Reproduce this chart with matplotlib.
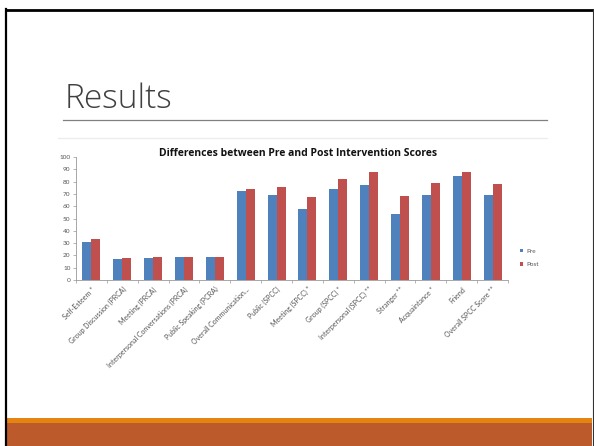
import numpy as np
import matplotlib
matplotlib.use("Agg")
import matplotlib.pyplot as plt
from matplotlib.patches import Rectangle
from matplotlib.lines import Line2D

categories = ["Self-Esteem *", "Group Discussion (PRCA)", "Meeting (PRCA)",
              "Interpersonal Conversations (PRCA)", "Public Speaking (PCRA)",
              "Overall Communication...", "Public (SPCC)", "Meeting (SPCC) *",
              "Group (SPCC) *", "Interpersonal (SPCC) **", "Stranger **",
              "Acquaintance *", "Friend", "Overall SPCC Score **"]
pre = [31.2, 17.1, 17.9, 18.5, 18.5, 72.3, 68.8, 57.7, 74.2, 76.9, 53.8, 69.0, 84.8, 69.0]
post = [33.2, 17.9, 18.7, 18.7, 18.5, 73.9, 75.3, 67.1, 81.8, 87.8, 67.9, 78.8, 87.5, 78.0]
yticks = list(range(0, 101, 10))

W, H = 594, 446
fig = plt.figure(figsize=(W / 100, H / 100), dpi=100)

def fx(px):
    return px / W

def fy(py):
    return 1 - py / H

# slide frame
fig.add_artist(Line2D([fx(6), fx(6)], [fy(9), fy(446)], color="black", lw=1.6))
fig.add_artist(Line2D([fx(6), fx(593)], [fy(9.5), fy(9.5)], color="black", lw=2.0))
fig.add_artist(Line2D([fx(592.5), fx(592.5)], [fy(9), fy(446)], color="#333333", lw=0.8))

# bottom bands
fig.add_artist(Rectangle((fx(7), fy(423)), fx(585), 5 / H, color="#E38510", lw=0))
fig.add_artist(Rectangle((fx(7), 0), fx(585), 23 / H, color="#BC5A2C", lw=0))

# title and rules
fig.text(fx(65), fy(108), "Results", fontsize=24, color="#404040",
         family="Open Sans", fontweight="light", ha="left", va="baseline")
fig.add_artist(Line2D([fx(63), fx(547)], [fy(120), fy(120)], color="#808080", lw=0.9))
fig.add_artist(Line2D([fx(58), fx(547)], [fy(138), fy(138)], color="#ececec", lw=0.9))

# chart
ax = fig.add_axes([fx(76), fy(280), fx(508 - 76), (280 - 157) / H])
x = np.arange(len(categories))
w = 0.29
ax.bar(x - w / 2, pre, w, color="#4F81BD", label="Pre")
ax.bar(x + w / 2, post, w, color="#C0504D", label="Post")
ax.set_xlim(-0.5, len(categories) - 0.5)
ax.set_ylim(0, 100)
ax.set_yticks(yticks)
ax.set_yticklabels([str(t) for t in yticks], fontsize=4.6, color="#555555", family="Lato")
ax.set_xticks(x)
ax.set_xticklabels(categories, rotation=45, ha="right", rotation_mode="anchor",
                   fontsize=5.0, color="#555555", family="Lato")
ax.set_xticks(np.arange(-0.5, len(categories), 1), minor=True)
ax.tick_params(axis="x", which="major", length=0, pad=4)
ax.tick_params(axis="x", which="minor", length=2, color="#999999", width=0.5)
ax.tick_params(axis="y", length=2, color="#999999", width=0.5, pad=2)
for s in ["top", "right"]:
    ax.spines[s].set_visible(False)
ax.spines["left"].set_color("#999999")
ax.spines["bottom"].set_color("#999999")
ax.spines["left"].set_linewidth(0.6)
ax.spines["bottom"].set_linewidth(0.6)

fig.text(fx(298), fy(153), "Differences between Pre and Post Intervention Scores",
         fontsize=7.5, fontweight="bold", family="Open Sans", color="#111111",
         ha="center", va="center")

leg = ax.legend(loc="center left", bbox_to_anchor=(1.015, 0.18), frameon=False,
                handlelength=0.5, handleheight=0.5,
                labelspacing=1.3, handletextpad=0.5, prop={"family": "Lato", "size": 4.6})
for t in leg.get_texts():
    t.set_color("#555555")

fig.savefig("out.png", dpi=100)
